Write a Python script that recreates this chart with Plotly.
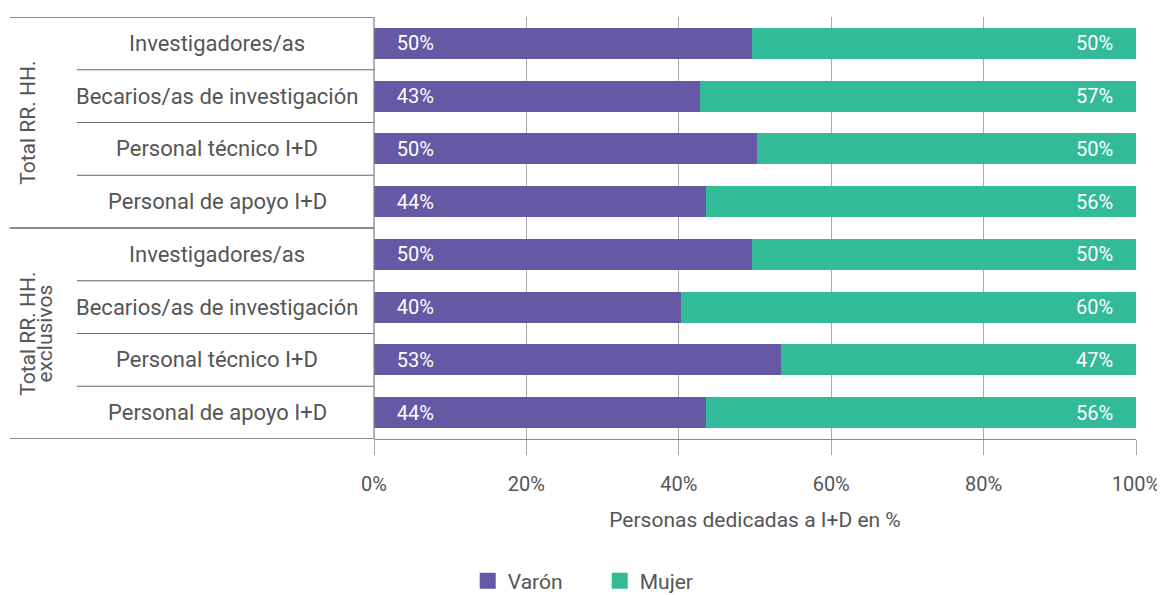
"""Horizontal 100% stacked bars: personas dedicadas a I+D por sexo."""

import plotly.graph_objects as go

categories = [
    "Investigadores/as",
    "Becarios/as de investigación",
    "Personal técnico I+D",
    "Personal de apoyo I+D",
    "Investigadores/as",
    "Becarios/as de investigación",
    "Personal técnico I+D",
    "Personal de apoyo I+D",
]
group_lines = [["Total RR. HH."], ["Total RR. HH.", "exclusivos"]]
varon = [49.6, 42.8, 50.3, 43.6, 49.6, 40.3, 53.4, 43.6]
mujer = [50.4, 57.2, 49.7, 56.4, 50.4, 59.7, 46.6, 56.4]
x_ticks = [0, 20, 40, 60, 80, 100]

PURPLE = "rgb(101, 88, 165)"
GREEN = "rgb(51, 187, 153)"
TEXT = "#555555"
FONT = "Roboto"
PAD = "\u00a0" * 4

rows = list(range(len(categories)))

fig = go.Figure()

# bars (legend drawn by the dummy traces below, for bigger swatches)
fig.add_trace(go.Bar(
    y=rows, x=varon, orientation="h", name="Varón", showlegend=False,
    marker=dict(color=PURPLE, line=dict(width=0)),
    texttemplate=PAD + "%{x:.0f}%", textposition="inside",
    insidetextanchor="start", textangle=0,
    textfont=dict(color="white", size=20, family=FONT),
))
fig.add_trace(go.Bar(
    y=rows, x=mujer, orientation="h", name="Mujer", showlegend=False,
    marker=dict(color=GREEN, line=dict(width=0)),
    texttemplate="%{x:.0f}%" + PAD, textposition="inside",
    insidetextanchor="end", textangle=0,
    textfont=dict(color="white", size=20, family=FONT),
))
for name, color in [("Varón", PURPLE), ("Mujer", GREEN)]:
    fig.add_trace(go.Scatter(
        x=[None], y=[None], mode="markers", name=name,
        marker=dict(symbol="square", size=18, color=color),
    ))

# left-hand table: category labels, group labels and separators
annotations = []
for i, cat in enumerate(categories):
    annotations.append(dict(
        x=-0.206, xref="paper", y=i, yref="y", text=cat, showarrow=False,
        xanchor="center", yanchor="middle",
        font=dict(size=22, color=TEXT, family=FONT),
    ))
for g, lines in enumerate(group_lines):
    for k, line in enumerate(lines):
        annotations.append(dict(
            x=-0.455 + 0.022 * k, xref="paper", y=g * 4 + 1.5, yref="y",
            text=line, showarrow=False, textangle=-90,
            xanchor="center", yanchor="middle",
            font=dict(size=21, color=TEXT, family=FONT),
        ))

shapes = []
for b in [-0.5, 3.5, 7.5]:
    shapes.append(dict(type="line", xref="paper", yref="y", x0=-0.478, x1=0,
                       y0=b, y1=b, line=dict(color="#666666", width=1.3)))
for b in [0.5, 1.5, 2.5, 4.5, 5.5, 6.5]:
    shapes.append(dict(type="line", xref="paper", yref="y", x0=-0.39, x1=0,
                       y0=b, y1=b, line=dict(color="#666666", width=1)))
shapes.append(dict(type="line", xref="paper", yref="paper", x0=0, x1=0,
                   y0=0, y1=1, line=dict(color="#888888", width=1.3)))

fig.update_layout(
    barmode="stack",
    bargap=0.41,
    width=1157,
    height=587,
    margin=dict(l=366, r=29, t=9, b=156, autoexpand=False),
    plot_bgcolor="white",
    paper_bgcolor="white",
    font=dict(family=FONT, color=TEXT),
    annotations=annotations,
    shapes=shapes,
    legend=dict(
        orientation="h", x=0.123, xanchor="left", y=-0.337, yanchor="middle",
        font=dict(size=21, color=TEXT, family=FONT), traceorder="normal",
        itemwidth=30, entrywidth=87,
    ),
)
fig.update_xaxes(
    range=[0, 100], tickvals=x_ticks, ticktext=[f"{v}%" for v in x_ticks],
    showgrid=True, gridcolor="#aaaaaa", gridwidth=1,
    ticks="outside", ticklen=15, tickcolor="#aaaaaa",
    ticklabelstandoff=12,
    tickfont=dict(size=20, color=TEXT, family=FONT),
    showline=True, linecolor="#888888", linewidth=1.3,
    zeroline=False,
    title=dict(text="Personas dedicadas a I+D en %", standoff=17,
               font=dict(size=21, color=TEXT, family=FONT)),
)
fig.update_yaxes(
    range=[7.5, -0.5], showticklabels=False, showgrid=False, zeroline=False,
    showline=False,
)

fig.write_html("out.html")
